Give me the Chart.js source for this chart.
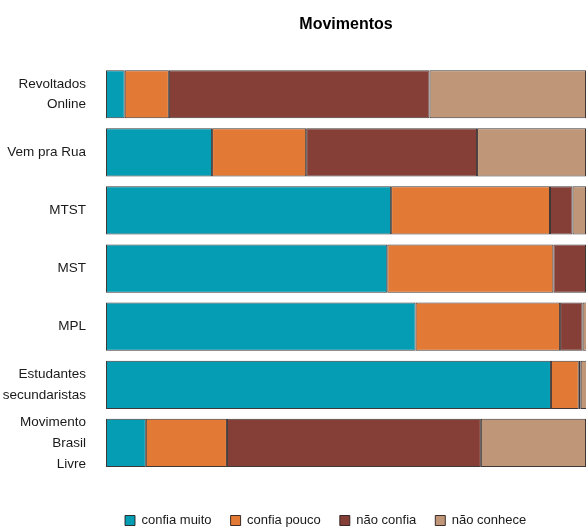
<!DOCTYPE html>
<html>
<head>
<meta charset="utf-8">
<script src="https://cdn.jsdelivr.net/npm/chart.js@4"></script>
<style>
  html, body { margin: 0; padding: 0; background: #fff; overflow: hidden; }
  #wrap { width: 586px; height: 528px; }
</style>
</head>
<body>
<div id="wrap"><canvas id="GraficoMovimentos"></canvas></div>
<script>
// categorias (eixo y)
var movimentos = [
  ['Revoltados', 'Online'],
  'Vem pra Rua',
  'MTST',
  'MST',
  'MPL',
  ['Estudantes', 'secundaristas'],
  ['Movimento', 'Brasil', 'Livre']
];

// valores (%)
var confiaMuito = [3.9, 22.1, 59.4, 58.6, 64.5, 92.7, 8.3];
var confiaPouco = [9.2, 19.6, 33.1, 34.6, 30.1, 5.8, 16.9];
var naoConfia   = [54.3, 35.6, 4.7, 6.8, 4.7, 0.4, 52.9];
var naoConhece  = [32.6, 22.7, 2.8, 1.5, 1.5, 2.0, 21.9];

var fonte = "'Liberation Sans', Arial, sans-serif";
var borda = 'rgba(30, 20, 20, 0.85)';

var ctx = document.getElementById('GraficoMovimentos').getContext('2d');
var data = {
  labels: movimentos,
  datasets: [
    { label: 'confia muito', data: confiaMuito, backgroundColor: '#049db3', borderColor: borda, borderWidth: 1 },
    { label: 'confia pouco', data: confiaPouco, backgroundColor: '#e27934', borderColor: borda, borderWidth: 1 },
    { label: 'não confia',   data: naoConfia,   backgroundColor: '#853f37', borderColor: borda, borderWidth: 1 },
    { label: 'não conhece',  data: naoConhece,  backgroundColor: '#bf9677', borderColor: borda, borderWidth: 1 }
  ]
};
var options = {
  indexAxis: 'y',
  responsive: true,
  maintainAspectRatio: false,
  animation: false,
  datasets: { bar: { categoryPercentage: 1, barPercentage: 0.83, borderSkipped: false } },
  layout: { padding: { left: 0, right: 0, top: 0, bottom: -9 } },
  scales: {
    x: {
      stacked: true, min: 0, max: 100,
      grid: { display: false }, border: { display: false }, ticks: { display: false },
      afterFit: function (scale) { scale.height = 23; }
    },
    y: {
      stacked: true,
      grid: { display: false, drawTicks: false },
      border: { display: false },
      ticks: { padding: 20, autoSkip: false, color: '#1a1a1a', font: { family: fonte, size: 13.5, lineHeight: 1.55 } },
      afterFit: function (scale) { scale.width = 106; }
    }
  },
  plugins: {
    title: {
      display: true,
      fullSize: false,
      text: 'Movimentos',
      color: '#000',
      font: { family: fonte, size: 16, weight: 'bold', lineHeight: 1.2 },
      padding: { top: 15, bottom: 31 }
    },
    legend: {
      position: 'bottom',
      fullSize: false,
      align: 'start',
      labels: {
        boxWidth: 10,
        boxHeight: 10,
        padding: 19,
        color: '#1a1a1a',
        font: { family: fonte, size: 13 }
      }
    },
    tooltip: { enabled: false }
  }
};
var GraficoMovimentos = new Chart(ctx, { type: 'bar', data: data, options: options });
</script>
</body>
</html>
